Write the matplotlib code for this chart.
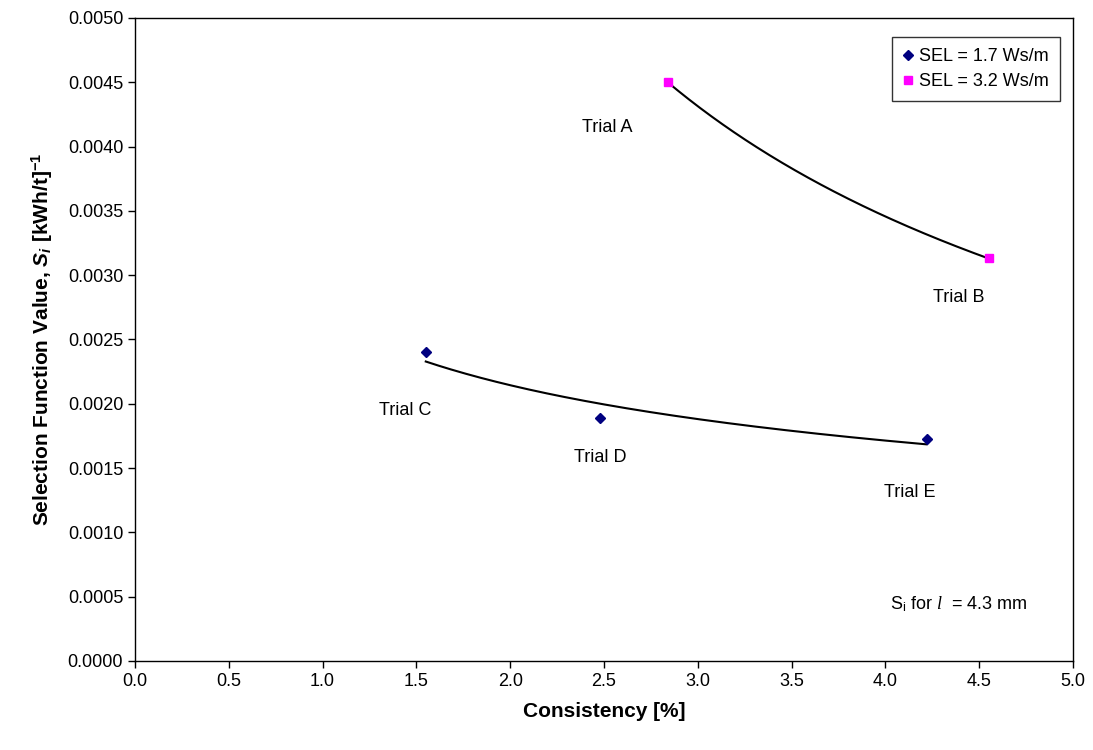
import numpy as np
import matplotlib
matplotlib.use("Agg")
import matplotlib.pyplot as plt

plt.rcParams["font.family"] = ["Liberation Sans", "DejaVu Sans"]
plt.rcParams["mathtext.fontset"] = "custom"
plt.rcParams["mathtext.rm"] = "Liberation Sans"
plt.rcParams["mathtext.it"] = "Liberation Serif:italic"
plt.rcParams["mathtext.bf"] = "Liberation Sans:bold"
plt.rcParams["mathtext.bfit"] = "Liberation Sans:bold:italic"

# consistency [%] and selection function values for each SEL level
sel17_x = [1.55, 2.48, 4.22]
sel17_y = [0.00240, 0.00189, 0.00173]
sel32_x = [2.84, 4.55]
sel32_y = [0.00450, 0.00313]

trial_names = ["Trial A", "Trial B", "Trial C", "Trial D", "Trial E"]
trial_pos = [(2.52, 0.00415), (4.39, 0.00283), (1.44, 0.00195),
             (2.48, 0.00158), (4.13, 0.00131)]


def power_fit(x, y):
    # least squares fit of y = a * x^b in log space
    b, loga = np.polyfit(np.log(x), np.log(y), 1)
    xs = np.linspace(min(x), max(x), 200)
    return xs, np.exp(loga) * xs ** b


fig = plt.figure(figsize=(10.93, 7.5), dpi=100)
ax = fig.add_axes([0.1235, 0.1187, 0.8582, 0.8573])

xs, ys = power_fit(sel17_x, sel17_y)
ax.plot(xs, ys, color="black", lw=1.5, zorder=2)
xs, ys = power_fit(sel32_x, sel32_y)
ax.plot(xs, ys, color="black", lw=1.5, zorder=2)

ax.plot(sel17_x, sel17_y, ls="none", marker="D", ms=5.5, color="#000080",
        label="SEL = 1.7 Ws/m", zorder=3)
ax.plot(sel32_x, sel32_y, ls="none", marker="s", ms=6, color="#ff00ff",
        label="SEL = 3.2 Ws/m", zorder=3)

for name, (tx, ty) in zip(trial_names, trial_pos):
    ax.text(tx, ty, name, ha="center", va="center", fontsize=13)

ax.text(4.39, 0.00044, r"S$_{\mathrm{i}}$ for $\mathit{l}$  = 4.3 mm",
        ha="center", va="center", fontsize=13)

ax.set_xlim(0, 5.0)
ax.set_ylim(0, 0.005)
ax.set_xticks(np.arange(0, 5.01, 0.5))
ax.set_yticks(np.arange(0, 0.00501, 0.0005))
ax.xaxis.set_major_formatter(plt.FormatStrFormatter("%.1f"))
ax.yaxis.set_major_formatter(plt.FormatStrFormatter("%.4f"))
ax.tick_params(direction="out", length=5, width=1, labelsize=13)
for s in ax.spines.values():
    s.set_linewidth(1)

ax.set_xlabel("Consistency [%]", fontsize=15, fontweight="bold", labelpad=9)
ax.set_ylabel(r"Selection Function Value, $\mathbfit{S_i}$ [kWh/t]$^{\mathbf{-1}}$",
              fontsize=15, fontweight="bold", labelpad=9)

leg = ax.legend(loc="upper right", bbox_to_anchor=(0.986, 0.97), fontsize=13,
                frameon=True, fancybox=False, edgecolor="black",
                handlelength=0.6, handletextpad=0.3, borderpad=0.6,
                labelspacing=0.45, borderaxespad=0)
leg.get_frame().set_linewidth(1)

fig.savefig("out.png", dpi=100, facecolor="white")
